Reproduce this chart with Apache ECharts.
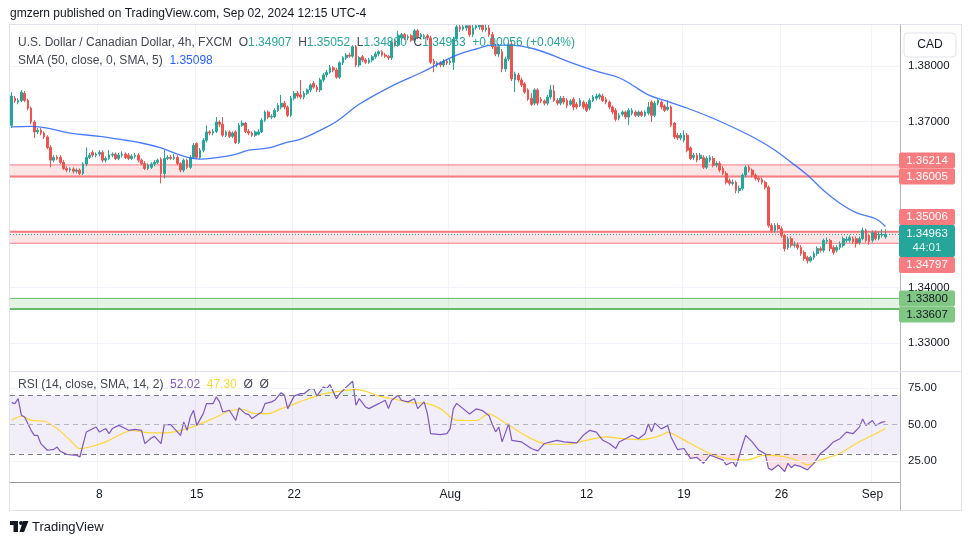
<!DOCTYPE html>
<html>
<head>
<meta charset="utf-8">
<script src="https://cdn.jsdelivr.net/npm/echarts@6/dist/echarts.min.js"></script>
<style>
html,body{margin:0;padding:0;background:#fff;}
#chart{width:970px;height:545px;}
</style>
</head>
<body>
<div id="chart"></div>
<script>
// USD/CAD 4h (FXCM), bars, prices in 1e-4 units: [open, high, low, close]
var bars = [
[13693,13753,13688,13746],[13742,13746,13733,13737],[13735,13742,13731,13738],[13738,13757,13735,13753],[13751,13755,13735,13738],
[13738,13741,13720,13724],[13724,13727,13695,13699],[13699,13702,13670,13681],[13681,13688,13677,13684],[13684,13688,13675,13679],
[13679,13682,13668,13672],[13672,13675,13650,13653],[13653,13657,13617,13630],[13630,13639,13626,13635],[13635,13639,13630,13633],
[13635,13639,13623,13626],[13626,13630,13612,13615],[13615,13619,13608,13612],[13612,13617,13608,13614],[13614,13617,13606,13610],
[13610,13615,13606,13612],[13612,13615,13603,13606],[13606,13626,13603,13623],[13623,13653,13619,13635],[13635,13643,13632,13639],
[13644,13648,13635,13639],[13639,13644,13635,13641],[13641,13648,13637,13644],[13644,13648,13626,13630],[13630,13637,13626,13633],
[13633,13648,13630,13639],[13639,13644,13635,13641],[13641,13644,13630,13633],[13633,13643,13630,13639],[13639,13646,13635,13641],
[13641,13644,13632,13635],[13639,13643,13630,13633],[13633,13641,13630,13637],[13637,13643,13633,13639],[13639,13643,13626,13630],
[13630,13633,13621,13624],[13624,13628,13612,13615],[13615,13624,13612,13621],[13617,13626,13614,13623],[13623,13630,13619,13626],
[13626,13633,13623,13630],[13632,13635,13588,13606],[13606,13648,13597,13633],[13633,13639,13630,13635],[13635,13639,13630,13633],
[13633,13641,13630,13635],[13635,13639,13621,13624],[13624,13626,13608,13612],[13612,13633,13608,13630],[13630,13633,13614,13617],
[13617,13639,13614,13635],[13635,13661,13632,13657],[13660,13662,13632,13635],[13635,13652,13632,13648],[13648,13670,13644,13666],
[13666,13693,13662,13681],[13681,13684,13675,13679],[13679,13686,13675,13682],[13682,13708,13679,13699],[13699,13702,13690,13695],
[13695,13708,13672,13675],[13675,13684,13672,13681],[13681,13684,13670,13673],[13673,13682,13670,13679],[13681,13684,13659,13662],
[13662,13697,13659,13693],[13693,13702,13690,13697],[13697,13699,13679,13682],[13682,13686,13675,13679],[13679,13682,13672,13675],
[13675,13684,13672,13681],[13677,13686,13675,13681],[13681,13706,13679,13702],[13702,13720,13699,13717],[13717,13720,13704,13708],
[13708,13713,13704,13709],[13709,13724,13706,13720],[13720,13733,13717,13729],[13726,13748,13722,13733],[13733,13737,13722,13726],
[13726,13729,13708,13711],[13711,13746,13708,13742],[13742,13755,13738,13751],[13751,13755,13742,13746],[13748,13775,13740,13744],
[13744,13755,13740,13751],[13751,13760,13748,13757],[13757,13769,13753,13766],[13769,13773,13759,13762],[13762,13766,13753,13757],
[13757,13779,13753,13775],[13775,13788,13771,13784],[13784,13793,13780,13789],[13789,13802,13786,13797],[13797,13800,13789,13793],
[13793,13797,13777,13780],[13780,13809,13777,13806],[13806,13818,13802,13815],[13815,13824,13811,13820],[13820,13824,13815,13818],
[13818,13838,13815,13835],[13835,13838,13798,13802],[13802,13818,13798,13815],[13817,13820,13807,13811],[13811,13815,13804,13807],
[13807,13815,13804,13811],[13811,13820,13807,13817],[13817,13826,13813,13822],[13822,13829,13818,13826],[13826,13829,13817,13820],
[13820,13824,13815,13818],[13818,13820,13811,13815],[13815,13847,13811,13844],[13844,13849,13835,13838],[13838,13864,13835,13856],
[13851,13860,13847,13857],[13857,13860,13847,13851],[13851,13857,13847,13853],[13855,13858,13844,13847],[13847,13867,13844,13864],
[13864,13867,13849,13853],[13853,13860,13849,13857],[13853,13858,13849,13855],[13855,13858,13847,13851],[13851,13855,13804,13807],
[13809,13813,13789,13804],[13802,13809,13798,13806],[13806,13809,13798,13802],[13802,13813,13798,13809],[13809,13813,13802,13806],
[13806,13813,13802,13809],[13807,13853,13793,13849],[13849,13880,13846,13871],[13871,13885,13862,13867],[13867,13885,13864,13871],
[13869,13882,13864,13873],[13873,13880,13853,13857],[13857,13880,13853,13869],[13869,13885,13866,13873],[13871,13890,13866,13874],
[13874,13888,13862,13866],[13866,13885,13862,13869],[13869,13946,13853,13857],[13857,13862,13831,13835],[13835,13840,13818,13822],
[13822,13840,13817,13835],[13826,13831,13789,13795],[13795,13817,13790,13813],[13813,13842,13809,13838],[13840,13846,13773,13777],
[13775,13790,13753,13786],[13784,13788,13771,13775],[13775,13779,13762,13766],[13768,13771,13750,13753],[13757,13760,13737,13740],
[13742,13751,13728,13731],[13733,13760,13729,13757],[13757,13760,13729,13733],[13740,13744,13733,13737],[13737,13740,13729,13733],
[13733,13748,13729,13744],[13744,13766,13740,13757],[13755,13766,13735,13738],[13738,13742,13729,13733],[13733,13746,13729,13742],
[13742,13746,13731,13735],[13738,13742,13724,13729],[13731,13740,13728,13737],[13740,13744,13720,13726],[13731,13735,13722,13726],
[13729,13742,13726,13738],[13735,13738,13722,13726],[13731,13735,13717,13720],[13724,13742,13720,13738],[13738,13748,13735,13744],
[13742,13750,13738,13746],[13744,13751,13740,13748],[13746,13750,13735,13738],[13740,13744,13731,13735],[13735,13738,13722,13726],
[13726,13729,13713,13717],[13720,13724,13700,13704],[13706,13715,13702,13711],[13713,13720,13709,13717],[13717,13720,13704,13708],
[13708,13724,13693,13720],[13715,13724,13711,13720],[13717,13720,13708,13711],[13711,13720,13708,13717],[13717,13720,13708,13711],
[13711,13720,13708,13717],[13715,13735,13711,13726],[13735,13738,13699,13711],[13711,13737,13708,13733],[13733,13742,13729,13738],
[13735,13738,13722,13726],[13728,13731,13717,13720],[13722,13738,13719,13726],[13726,13729,13690,13693],[13697,13699,13668,13672],
[13675,13679,13666,13670],[13670,13679,13666,13675],[13666,13684,13662,13675],[13675,13679,13644,13648],[13652,13655,13630,13633],
[13635,13643,13630,13639],[13639,13643,13626,13630],[13633,13643,13630,13639],[13635,13639,13614,13617],[13617,13637,13614,13633],
[13630,13639,13626,13635],[13633,13637,13617,13621],[13621,13628,13617,13624],[13624,13628,13608,13612],[13615,13619,13603,13606],
[13606,13610,13586,13590],[13593,13597,13584,13588],[13588,13595,13584,13590],[13590,13593,13570,13575],[13575,13584,13570,13579],
[13579,13606,13575,13603],[13603,13621,13599,13617],[13617,13621,13608,13612],[13612,13615,13599,13603],[13603,13606,13593,13597],
[13597,13601,13590,13595],[13595,13599,13586,13590],[13590,13593,13577,13581],[13581,13584,13508,13512],[13512,13516,13499,13503],
[13503,13516,13499,13512],[13512,13516,13503,13506],[13506,13510,13490,13494],[13494,13497,13465,13470],[13472,13492,13468,13488],
[13488,13492,13472,13476],[13476,13483,13472,13477],[13477,13481,13468,13472],[13472,13476,13457,13461],[13463,13467,13448,13452],
[13454,13457,13443,13448],[13448,13457,13445,13454],[13454,13465,13450,13461],[13461,13474,13457,13470],[13470,13474,13463,13467],
[13467,13488,13463,13485],[13483,13490,13479,13485],[13485,13488,13465,13470],[13472,13476,13459,13463],[13467,13476,13463,13472],
[13472,13483,13468,13479],[13476,13492,13472,13488],[13485,13492,13481,13487],[13485,13494,13481,13490],[13488,13492,13479,13483],
[13488,13492,13472,13479],[13481,13492,13477,13488],[13488,13508,13485,13503],[13503,13506,13481,13485],[13494,13497,13477,13483],
[13485,13503,13481,13499],[13499,13503,13485,13488],[13488,13501,13485,13496],[13494,13505,13490,13496],[13491,13505,13488,13496]
];

// time axis: [bar index, label]
var timeTicks = [[27,'8'],[57,'15'],[87,'22'],[135,'Aug'],[177,'12'],[207,'19'],[237,'26'],[265,'Sep']];

// SMA 50: [bar index, price * 1e4]
var smaPoints = [[0,13690],[6,13691],[11,13688],[18,13679],[27,13673],[35,13666],[40,13661],[46,13652],[52,13639],[58,13632],
[68,13639],[73,13648],[79,13652],[84,13661],[89,13668],[94,13681],[100,13700],[107,13731],[117,13764],[126,13788],[132,13806],
[137,13820],[143,13831],[148,13838],[153,13838],[161,13831],[172,13807],[181,13789],[187,13779],[191,13766],[196,13748],
[201,13738],[207,13726],[215,13708],[224,13684],[230,13666],[235,13648],[240,13626],[245,13603],[250,13575],[255,13552],
[260,13535],[266,13524],[269,13510]];

// RSI 14 and its SMA 14: [bar index, value]
var rsiPoints = [[0,64.9],[1,64.2],[2,67.6],[3,56.3],[4,55.1],[6,46],[7,42.6],[8,42.6],[9,36.9],[11,32.4],[13,33],[14,34.6],
[15,31.7],[17,29.6],[19,29],[20,29],[21,27.8],[23,44.9],[26,48.3],[27,44.9],[29,47.2],[30,43.7],[31,47.2],[33,49.4],[35,47.2],
[36,46],[38,46.7],[40,46],[41,36.9],[43,40.8],[44,41.9],[46,36.9],[47,49.9],[49,49.9],[52,42.6],[53,51.7],[54,46],[55,55.1],
[56,59.7],[57,49.4],[59,57.4],[60,64.2],[62,64.2],[63,68.8],[64,65.4],[65,58.5],[67,59.7],[69,52.8],[70,61.3],[72,57.4],
[73,56.7],[74,54],[77,58.5],[78,64.2],[80,65.4],[81,66.5],[83,71.7],[84,69.9],[85,60.8],[87,69.5],[89,71],[90,71],[92,74.5],
[93,74.5],[94,69.5],[96,75.6],[97,74.5],[98,77.2],[100,67.6],[101,71],[103,75.5],[105,79.5],[106,63.1],[107,67.6],[109,61.9],
[110,60.8],[113,64.2],[115,66.5],[116,60.8],[117,66.5],[119,69.9],[120,66.5],[122,65.4],[124,67.6],[125,60.8],[127,65.4],
[128,57.4],[129,43.7],[132,43.1],[134,43.7],[135,47],[136,60.8],[137,64.4],[141,57.2],[143,60.6],[145,59.4],[147,56],[148,50],
[149,45],[150,48.2],[151,38.1],[153,50.4],[154,39.2],[157,38.1],[160,33.6],[162,32],[164,37],[166,38.1],[168,39.2],[170,38.1],
[174,37.4],[176,42.6],[178,46],[180,44.8],[182,39.2],[184,37],[186,33.6],[187,38.1],[189,40.3],[191,42.6],[193,40.3],[195,43.7],
[196,50.4],[197,45],[198,50.9],[200,47],[202,49.3],[203,41.5],[205,32.9],[207,33.6],[209,26.9],[211,27.5],[213,23.5],[215,29.1],
[217,27.5],[219,25.7],[220,22.4],[222,24.6],[223,21.2],[225,36],[226,42.6],[228,38.1],[230,32.5],[232,30],[233,20.1],[234,19],
[236,22.4],[238,17.9],[239,23.5],[240,20.5],[241,22.4],[243,21.2],[245,19],[247,23.5],[249,30.2],[251,33.6],[253,38.1],
[255,40.3],[257,44.8],[259,43.7],[261,48.2],[262,53.8],[263,49.3],[265,52.7],[266,49.3],[268,51.6],[269,52.02]];
var rsiMaPoints = [[0,52.8],[3,55.6],[6,52.8],[10,52.2],[14,47.2],[18,39.2],[21,33.5],[24,34.6],[29,38.1],[33,42.6],[37,46],
[42,44.4],[47,44.2],[52,46],[57,49.4],[63,55.1],[67,59],[71,60.4],[75,57.4],[79,57.4],[83,60.8],[86,63.1],[90,66.5],[94,69.5],
[98,71.7],[103,73.3],[106,74],[109,72.6],[113,69.5],[118,67.2],[123,64.9],[128,64.2],[132,60.8],[137,52.8],[143,52.7],
[147,57.2],[150,53.8],[154,48.2],[160,40.3],[165,36.5],[171,36.5],[177,39.2],[183,41.5],[188,40.3],[194,39.7],[200,42.6],
[202,44.8],[205,41.9],[209,37],[215,30.2],[220,26.9],[226,25.7],[232,29.1],[238,28],[243,24.6],[245,22.4],[249,25.7],
[255,30.2],[260,37],[266,43.7],[269,47.3]];

var resistZones = [[1.36005, 1.36214], [1.34797, 1.35006]];
var supportZones = [[1.33607, 1.33800]];
var priceTicks = [1.33, 1.34, 1.35, 1.36, 1.37, 1.38];
var rsiTicks = [25, 50, 75];
var legendVals = { o: 1.34907, h: 1.35052, l: 1.34880, c: 1.34963, chg: 0.00056, pct: 0.04 };
var smaLast = 1.35098, rsiLast = 52.02, rsiMaLast = 47.30, countdown = '44:01';

var font = "'Liberation Sans', Arial, sans-serif";
var nCats = 274;
var cats = [];
for (var i = 0; i < nCats; i++) cats.push(i);
var tickMap = {};
timeTicks.forEach(function (t) { tickMap[t[0]] = t[1]; });
function isTick(i) { return tickMap[i] !== undefined; }

var candleData = bars.map(function (b) { return [b[0] / 1e4, b[3] / 1e4, b[2] / 1e4, b[1] / 1e4]; });
var smaData = smaPoints.map(function (p) { return [p[0], p[1] / 1e4]; });
var lowFill = rsiPoints.map(function (p) { return [p[0], Math.min(p[1], 30)]; });
var highFill = rsiPoints.map(function (p) { return [p[0], Math.max(p[1], 70)]; });

var red = '#f77c80', green = '#81c784', teal = '#26a69a';

var zoneAreas = [];
resistZones.forEach(function (z) {
	zoneAreas.push([{ yAxis: z[0], itemStyle: { color: 'rgba(247,124,128,0.2)' } }, { yAxis: z[1] }]);
});
supportZones.forEach(function (z) {
	zoneAreas.push([{ yAxis: z[0], itemStyle: { color: 'rgba(129,199,132,0.22)' } }, { yAxis: z[1] }]);
});

var option = {
	animation: false,
	backgroundColor: '#fff',
	grid: [
		{ left: 10, top: 25, width: 890, height: 346 },
		{ left: 10, top: 372, width: 890, height: 110 }
	],
	xAxis: [
		{
			type: 'category', gridIndex: 0, data: cats, boundaryGap: true,
			axisLine: { show: false }, axisTick: { show: false }, axisLabel: { show: false },
			splitLine: { show: true, interval: function (i) { return isTick(i); }, lineStyle: { color: '#f0f3fa' } }
		},
		{
			type: 'category', gridIndex: 1, data: cats, boundaryGap: true,
			axisLine: { show: true, lineStyle: { color: '#9598a1', width: 1 } },
			axisTick: { show: false },
			axisLabel: {
				interval: function (i) { return isTick(i); },
				formatter: function (v, i) { return tickMap[i] || ''; },
				color: '#131722', fontSize: 12, fontFamily: font, margin: 7
			},
			splitLine: { show: true, interval: function (i) { return isTick(i); }, lineStyle: { color: '#f0f3fa' } }
		}
	],
	yAxis: [
		{ type: 'value', gridIndex: 0, position: 'right', min: 1.32487, max: 1.38744,
			axisLine: { show: false }, axisTick: { show: false }, axisLabel: { show: false }, splitLine: { show: false } },
		{ type: 'value', gridIndex: 1, position: 'right', min: 10.75, max: 85.8,
			axisLine: { show: false }, axisTick: { show: false }, axisLabel: { show: false }, splitLine: { show: false } }
	],
	series: [
		{
			name: 'zones', type: 'line', xAxisIndex: 0, yAxisIndex: 0, data: [], z: 1, silent: true,
			markArea: { silent: true, data: zoneAreas }
		},
		{
			name: 'USDCAD', type: 'candlestick', xAxisIndex: 0, yAxisIndex: 0, data: candleData, z: 3,
			barWidth: '68%',
			itemStyle: { color: teal, color0: '#ef5350', borderColor: teal, borderColor0: '#ef5350', borderWidth: 1 }
		},
		{
			name: 'SMA', type: 'line', xAxisIndex: 0, yAxisIndex: 0, data: smaData, smooth: 0.4,
			showSymbol: false, z: 4, lineStyle: { color: '#2962ff', width: 1.3, opacity: 0.85 }
		},
		{
			name: 'rsiLevels', type: 'line', xAxisIndex: 1, yAxisIndex: 1, data: [], z: 1, silent: true,
			markArea: { silent: true, data: [[{ yAxis: 30, itemStyle: { color: 'rgba(126,87,194,0.1)' } }, { yAxis: 70 }]] },
			markLine: {
				silent: true, symbol: ['none', 'none'], label: { show: false },
				data: [
					{ yAxis: 75, lineStyle: { color: '#f0f3fa', type: 'solid', width: 1 } },
					{ yAxis: 25, lineStyle: { color: '#f0f3fa', type: 'solid', width: 1 } },
					{ yAxis: 70, lineStyle: { color: '#787b86', type: [5, 4], width: 1 } },
					{ yAxis: 50, lineStyle: { color: '#b2b5be', type: [5, 4], width: 1 } },
					{ yAxis: 30, lineStyle: { color: '#787b86', type: [5, 4], width: 1 } }
				]
			}
		},
		{
			name: 'oversold', type: 'line', xAxisIndex: 1, yAxisIndex: 1, data: lowFill, showSymbol: false, z: 2,
			lineStyle: { width: 0, opacity: 0 }, areaStyle: { origin: 30, color: 'rgba(242,54,69,0.22)' }
		},
		{
			name: 'overbought', type: 'line', xAxisIndex: 1, yAxisIndex: 1, data: highFill, showSymbol: false, z: 2,
			lineStyle: { width: 0, opacity: 0 }, areaStyle: { origin: 70, color: 'rgba(76,175,80,0.22)' }
		},
		{
			name: 'RSI', type: 'line', xAxisIndex: 1, yAxisIndex: 1, data: rsiPoints, showSymbol: false, z: 4,
			lineStyle: { color: '#7e57c2', width: 1.2 }
		},
		{
			name: 'RSI MA', type: 'line', xAxisIndex: 1, yAxisIndex: 1, data: rsiMaPoints, showSymbol: false, smooth: 0.3, z: 3,
			lineStyle: { color: '#fdd835', width: 1.2 }
		}
	]
};

var chart = echarts.init(document.getElementById('chart'));
chart.setOption(option);

function py(v) { return chart.convertToPixel({ yAxisIndex: 0 }, v); }
function ry(v) { return chart.convertToPixel({ yAxisIndex: 1 }, v); }

var g = [];
function txt(x, y, s, opt) {
	var st = { text: s, x: x, y: y, fill: '#131722', fontSize: 12, fontFamily: font, verticalAlign: 'middle', align: 'left' };
	for (var k in opt) st[k] = opt[k];
	g.push({ type: 'text', z: 100, silent: true, style: st });
}
function rect(x, y, w, h, fill, stroke, r, z) {
	g.push({ type: 'rect', z: z || 99, silent: true, shape: { x: x, y: y, width: w, height: h, r: r || 0 },
		style: { fill: fill, stroke: stroke || null, lineWidth: 1 } });
}
function line(x1, y1, x2, y2, c, w, z, dash) {
	g.push({ type: 'line', z: z || 98, silent: true, shape: { x1: x1, y1: y1, x2: x2, y2: y2 },
		style: { stroke: c, lineWidth: w || 1, lineDash: dash || null } });
}

// cover wicks that run above the pane (TradingView clips them at the pane edge)
rect(0, 0, 970, 24, '#fff', null, 0, 50);

// horizontal price grid, zone edges and last price line, placed through the y axis
priceTicks.forEach(function (v) { line(10, Math.round(py(v)) + 0.5, 900, Math.round(py(v)) + 0.5, '#f0f3fa', 1, 0.5); });
resistZones.forEach(function (z, k) {
	line(10, py(z[0]), 900, py(z[0]), red, k == 0 ? 2 : 1, 2);
	line(10, py(z[1]), 900, py(z[1]), red, k == 0 ? 1 : 2, 2);
});
supportZones.forEach(function (z) {
	line(10, py(z[0]), 900, py(z[0]), '#66bb6a', 2, 2);
	line(10, py(z[1]), 900, py(z[1]), '#66bb6a', 1, 2);
});
line(10, Math.round(py(legendVals.c)) + 0.5, 900, Math.round(py(legendVals.c)) + 0.5, teal, 1, 2, [1, 2]);

// frame
line(9, 24.5, 962, 24.5, '#e0e3eb');
line(9, 510.5, 962, 510.5, '#e0e3eb');
line(9.5, 24.5, 9.5, 510.5, '#e0e3eb');
line(961.5, 24.5, 961.5, 510.5, '#e0e3eb');
line(900.5, 24.5, 900.5, 510.5, '#b2b5be');
line(9, 371.5, 962, 371.5, '#e0e3eb');

txt(10, 14, 'gmzern published on TradingView.com, Sep 02, 2024 12:15 UTC-4', { fontSize: 12 });

function f5(v) { return v.toFixed(5); }
var lf = 12;
txt(18, 43, '{g|U.S. Dollar / Canadian Dollar, 4h, FXCM  O}{v|' + f5(legendVals.o) + '}{g|  H}{v|' + f5(legendVals.h) +
	'}{g|  L}{v|' + f5(legendVals.l) + '}{g|  C}{v|' + f5(legendVals.c) + '}{v|  +' + f5(legendVals.chg) +
	' (+' + legendVals.pct.toFixed(2) + '%)}', {
	rich: { g: { fill: '#434651', fontSize: lf, fontFamily: font }, v: { fill: teal, fontSize: lf, fontFamily: font } }
});
txt(18, 61, '{g|SMA (50, close, 0, SMA, 5)  }{b|' + f5(smaLast) + '}', {
	rich: { g: { fill: '#434651', fontSize: lf, fontFamily: font }, b: { fill: '#2962ff', fontSize: lf, fontFamily: font } }
});
txt(18, 385, '{g|RSI (14, close, SMA, 14, 2)  }{p|' + rsiLast.toFixed(2) + '}{g|  }{y|' + rsiMaLast.toFixed(2) + '}{g|  \u00d8  \u00d8}', {
	rich: { g: { fill: '#434651', fontSize: lf, fontFamily: font }, p: { fill: '#7e57c2', fontSize: lf, fontFamily: font },
		y: { fill: '#fdd835', fontSize: lf, fontFamily: font } }
});

// price scale boxes: zone edges pushed apart around the last price label
var curY = py(legendVals.c), curTop = curY - 9, curBot = curY + 23;
var boxes = [];
resistZones.forEach(function (z) { boxes.push({ v: z[0], c: red, t: '#fff' }, { v: z[1], c: red, t: '#fff' }); });
supportZones.forEach(function (z) { boxes.push({ v: z[0], c: green, t: '#131722' }, { v: z[1], c: green, t: '#131722' }); });
boxes.forEach(function (b) { b.y = py(b.v); });
var above = boxes.filter(function (b) { return b.y < curY; }).sort(function (a, b) { return b.y - a.y; });
var below = boxes.filter(function (b) { return b.y >= curY; }).sort(function (a, b) { return a.y - b.y; });
var lim = curTop;
above.forEach(function (b) { b.cy = Math.min(b.y, lim - 8); lim = b.cy - 8; });
lim = curBot;
below.forEach(function (b) { b.cy = Math.max(b.y, lim + 8); lim = b.cy + 8; });

priceTicks.forEach(function (v) {
	var y = py(v);
	var hidden = Math.abs(y - curY) < 12 || boxes.some(function (b) { return Math.abs(b.cy - y) < 10; });
	if (!hidden) txt(908, y, f5(v), { fontSize: 11.5 });
});
rsiTicks.forEach(function (v) { txt(908, ry(v), v.toFixed(2), { fontSize: 11.5 }); });

boxes.forEach(function (b) {
	rect(899, b.cy - 8, 56, 16, b.c, null, 2);
	txt(927, b.cy, f5(b.v), { fill: b.t, fontSize: 11.5, align: 'center' });
});
rect(899, curTop, 56, curBot - curTop, teal, null, 2);
txt(927, curY, f5(legendVals.c), { fill: '#fff', fontSize: 11.5, align: 'center' });
txt(927, curY + 14, countdown, { fill: 'rgba(255,255,255,0.85)', fontSize: 11.5, align: 'center' });

rect(904, 33, 52, 24, '#fff', '#e0e3eb', 4);
txt(930, 45, 'CAD', { fontSize: 12, align: 'center' });

// TradingView logo
rect(10, 521, 8, 4, '#131722');
rect(13.5, 521, 4.5, 11, '#131722');
g.push({ type: 'circle', z: 100, silent: true, shape: { cx: 21, cy: 523, r: 2 }, style: { fill: '#131722' } });
g.push({ type: 'polygon', z: 100, silent: true, shape: { points: [[23, 521], [28.5, 521], [24, 532], [19.5, 532]] }, style: { fill: '#131722' } });
txt(32, 527, 'TradingView', { fontSize: 13 });

chart.setOption({ graphic: g });
</script>
</body>
</html>
